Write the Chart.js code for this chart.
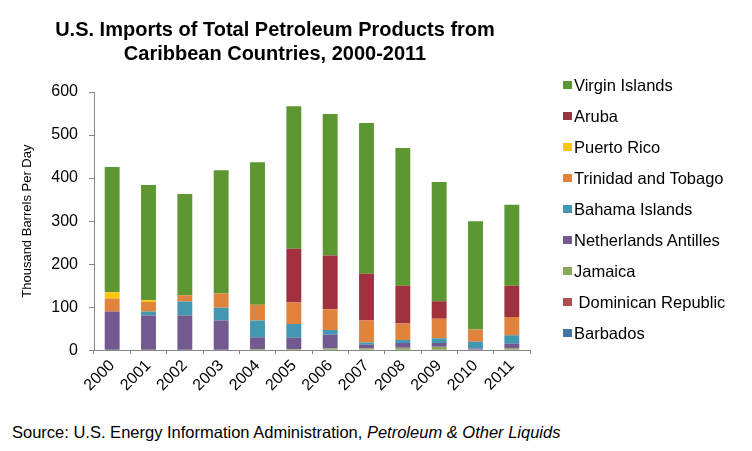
<!DOCTYPE html>
<html>
<head>
<meta charset="utf-8">
<script src="https://cdn.jsdelivr.net/npm/chart.js@4/dist/chart.umd.min.js"></script>
<style>
  body { margin: 0; background: #fff; font-family: "Liberation Sans", Arial, sans-serif; }
  #wrap { position: relative; width: 752px; height: 451px; overflow: hidden; }
  #chart { position: absolute; left: 0; top: 0; }
  #source { position: absolute; left: 12px; top: 423px; font-size: 16.5px; color: #000; white-space: nowrap; }
  #legend { position: absolute; left: 563px; top: 0; }
  .item { position: absolute; left: 0; height: 20px; white-space: nowrap; font-size: 16.5px; line-height: 20px; color: #000; }
  .item span.box { position: absolute; left: 0; top: 6px; width: 9px; height: 8px; }
  .item span.txt { position: absolute; left: 11px; top: 0; }
</style>
</head>
<body>
<div id="wrap">
  <canvas id="chart" width="752" height="415"></canvas>
  <div id="legend"></div>
  <div id="source">Source: U.S. Energy Information Administration, <i>Petroleum &amp; Other Liquids</i></div>
</div>
<script>
Chart.defaults.font.family = "'Liberation Sans', Arial, sans-serif";
Chart.defaults.color = "#000";

// categories
const years = ["2000", "2001", "2002", "2003", "2004", "2005", "2006", "2007", "2008", "2009", "2010", "2011"];

// thousand barrels per day, stacked bottom to top
const barbados = [0, 0, 0, 0, 0, 0, 0, 0, 0, 0, 2, 0];
const dominicanRepublic = [0, 0, 0, 0, 0, 0, 0, 0, 0, 0, 0, 0];
const jamaica = [0, 0, 0, 0, 3, 3, 4, 4, 6, 8, 0, 4];
const netherlandsAntilles = [90, 81, 81, 69, 27, 26, 32, 9, 11, 9, 2, 11];
const bahamaIslands = [0, 9, 32, 30, 39, 32, 11, 5, 7, 11, 16, 20];
const trinidadTobago = [30, 22, 15, 33, 37, 50, 48, 51, 38, 45, 28, 42];
const puertoRico = [15, 4, 0, 0, 0, 0, 0, 0, 0, 0, 0, 0];
const aruba = [0, 0, 0, 0, 0, 125, 125, 109, 88, 41, 0, 73];
const virginIslands = [291, 268, 235, 286, 331, 331, 329, 350, 320, 277, 252, 188];

const yTicks = [0, 100, 200, 300, 400, 500, 600];

function series(label, data, color) {
  return {
    label: label,
    data: data,
    backgroundColor: color,
    borderWidth: 0,
    barPercentage: 0.41,
    categoryPercentage: 1,
  };
}

const ctx = document.getElementById("chart").getContext("2d");
const chart = new Chart(ctx, {
  type: "bar",
  data: {
    labels: years,
    datasets: [
      series("Barbados", barbados, "#4572A7"),
      series(" Dominican Republic", dominicanRepublic, "#B14D4B"),
      series("Jamaica", jamaica, "#8FA55C"),
      series("Netherlands Antilles", netherlandsAntilles, "#72598F"),
      series("Bahama Islands", bahamaIslands, "#4397B0"),
      series("Trinidad and Tobago", trinidadTobago, "#E0833C"),
      series("Puerto Rico", puertoRico, "#FDC70B"),
      series("Aruba", aruba, "#A0313F"),
      series("Virgin Islands", virginIslands, "#5D9731"),
    ],
  },
  options: {
    responsive: false,
    animation: false,
    layout: {
      padding: { left: 20, right: 222, top: 0, bottom: 18 },
    },
    plugins: {
      title: {
        display: true,
        text: ["U.S. Imports of Total Petroleum Products from", "Caribbean Countries, 2000-2011"],
        font: { size: 20, weight: "bold", lineHeight: 1.175 },
        padding: { top: 19, bottom: 26 },
        color: "#000",
      },
      legend: { display: false },
      tooltip: { enabled: false },
    },
    scales: {
      x: {
        stacked: true,
        grid: {
          offset: true,
          drawOnChartArea: false,
          color: "#868686",
          tickLength: 4,
        },
        border: { color: "#868686" },
        ticks: {
          minRotation: 45,
          maxRotation: 45,
          font: { size: 16 },
          color: "#000",
          padding: 2,
        },
      },
      y: {
        stacked: true,
        min: 0,
        max: 600,
        afterBuildTicks: (axis) => {
          axis.ticks = yTicks.map((v) => ({ value: v }));
        },
        afterFit: (axis) => {
          axis.width = 74;
        },
        grid: {
          drawOnChartArea: false,
          color: "#868686",
          tickLength: 5,
        },
        border: { color: "#868686" },
        ticks: {
          font: { size: 16 },
          color: "#000",
          padding: 11,
        },
        title: {
          display: true,
          text: "Thousand Barrels Per Day",
          font: { size: 13 },
          color: "#000",
          padding: { top: 0, bottom: 16 },
        },
      },
    },
  },
});

// legend built from the chart's own datasets, top item = last dataset
const legendBox = document.getElementById("legend");
chart.data.datasets.slice().reverse().forEach((ds, i) => {
  const item = document.createElement("div");
  item.className = "item";
  item.style.top = (75 + i * 31) + "px";
  const box = document.createElement("span");
  box.className = "box";
  box.style.background = ds.backgroundColor;
  const txt = document.createElement("span");
  txt.className = "txt";
  txt.textContent = ds.label;
  txt.style.whiteSpace = "pre";
  item.appendChild(box);
  item.appendChild(txt);
  legendBox.appendChild(item);
});
</script>
</body>
</html>
